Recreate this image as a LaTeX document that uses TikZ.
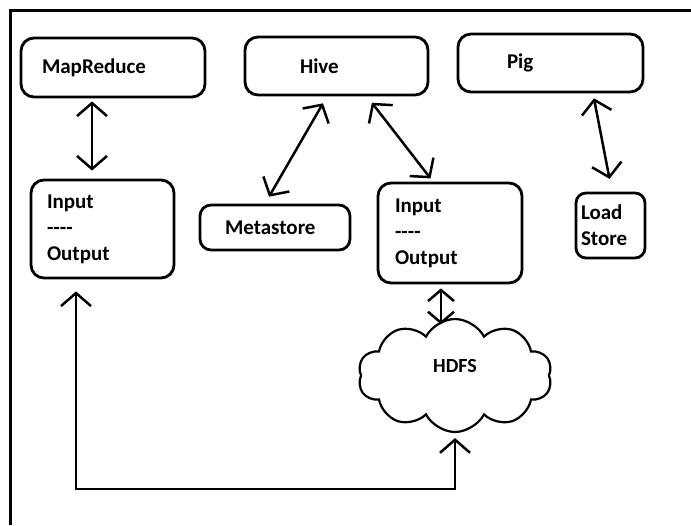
\documentclass[tikz,border=0pt]{standalone}
\usepackage{fontspec}
\setmainfont{Carlito}
\usetikzlibrary{arrows.meta,shapes.symbols,calc}
\tikzset{
  box/.style={draw=black,line width=2.8pt,rounded corners=13pt,align=left,
    font=\bfseries\fontsize{21}{26}\selectfont,inner ysep=0pt,anchor=center},
  barb/.tip={Straight Barb[length=13pt,width=30pt]},
  sbarb/.tip={Straight Barb[length=11pt,width=26pt]},
  dbl/.style={line width=2.5pt,barb-barb},
  sdbl/.style={line width=2.5pt,sbarb-sbarb},
}
\begin{document}
\begin{tikzpicture}[x=1pt,y=-1pt]
\useasboundingbox (0,0) rectangle (691,525);
\fill[white] (0,0) rectangle (691,525);
% frame (top and left edges only)
\draw[line width=3pt] (10,525) -- (10,10.5) -- (691,10.5);

\node[box,minimum width=184pt,minimum height=59pt,text width=142pt,inner xsep=21pt] (mr) at (113,67.5) {MapReduce};
\node[box,minimum width=183pt,minimum height=58pt,text width=73pt,inner xsep=55pt] (hive) at (336.5,66) {Hive};
\node[box,minimum width=185pt,minimum height=58pt,text width=87pt,inner xsep=49pt] (pig) at (550.5,63) {Pig};
\node[box,minimum width=143pt,minimum height=98pt,text width=111pt,inner xsep=16pt] (in1) at (102.5,229) {Input\\-{}-{}-{}-\\Output};
\node[box,minimum width=150pt,minimum height=45pt,text width=100pt,inner xsep=25pt,rounded corners=11pt] (meta) at (275,227.5) {Metastore};
\node[box,minimum width=144pt,minimum height=100pt,text width=110pt,inner xsep=17pt] (in2) at (450,233) {Input\\-{}-{}-{}-\\Output};
\node[box,minimum width=69pt,minimum height=65pt,text width=59pt,inner xsep=5pt,rounded corners=10pt] (ls) at (610.5,225.5) {Load\\Store};
\node[cloud,draw=black,line width=2.2pt,cloud puffs=10,cloud puff arc=125,cloud ignores aspect,
  minimum width=194pt,minimum height=113pt,font=\bfseries\fontsize{20}{22}\selectfont,text depth=20pt] (hdfs) at (455,375.5) {HDFS};

\coordinate (bend) at (76,489);

\draw[dbl,shorten <=3pt,shorten >=8pt] ([xshift=-21pt]mr.south) -- ([xshift=-10.5pt]in1.north);
\draw[dbl,shorten <=8pt,shorten >=8pt] ([xshift=-9.5pt]hive.south) -- ([xshift=-10pt]meta.north);
\draw[dbl,shorten <=8pt,shorten >=4pt] ([xshift=30.5pt]hive.south) -- ([xshift=-17pt]in2.north);
\draw[dbl,shorten <=5pt,shorten >=13pt] ([xshift=42.5pt]pig.south) -- ([xshift=1.5pt]ls.north);
\draw[sdbl] ([xshift=-9pt,yshift=-4pt]in2.south) -- ([xshift=-9pt,yshift=-40pt]in2.south);
\draw[dbl,shorten <=12pt,shorten >=5pt] ([xshift=-26.5pt]in1.south) -- (bend) -| (hdfs.south);
\end{tikzpicture}
\end{document}
